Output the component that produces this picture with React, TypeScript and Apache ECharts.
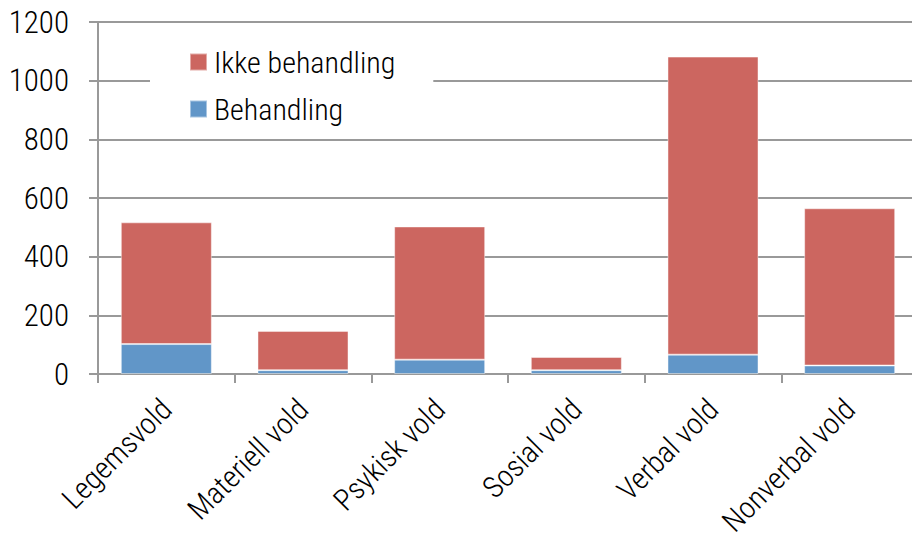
import React, { useEffect, useRef } from "react";
import * as echarts from "echarts";

const categories = ["Legemsvold", "Materiell vold", "Psykisk vold", "Sosial vold", "Verbal vold", "Nonverbal vold"];
const behandling = [102, 13, 49, 13, 66, 29];
const ikkeBehandling = [415, 134, 454, 45, 1016, 536];
const yTicks = { min: 0, max: 1200, interval: 200 };

const FONT = "'Roboto Condensed', 'Liberation Sans Narrow', 'Arial Narrow', sans-serif";
const WEIGHT = 350;

export default function App() {
  const ref = useRef<HTMLDivElement>(null);
  useEffect(() => {
    if (!ref.current) return;
    const chart = echarts.init(ref.current, undefined, { renderer: "svg" });
    chart.setOption({
      animation: false,
      backgroundColor: "#ffffff",
      grid: { left: 98, top: 22, width: 820, height: 352, containLabel: false, outerBoundsMode: "none" },
      legend: {
        orient: "vertical",
        left: 150,
        top: 30,
        data: ["Ikke behandling", "Behandling"],
        backgroundColor: "#ffffff",
        padding: [17, 38, 8, 39],
        itemWidth: 17,
        itemHeight: 17,
        itemGap: 17,
        icon: "rect",
        textStyle: { fontFamily: FONT, fontSize: 30, fontWeight: WEIGHT, color: "#000", padding: [0, 0, 0, 2] },
      },
      xAxis: {
        type: "category",
        data: categories,
        axisLine: { lineStyle: { color: "#999999", width: 2 } },
        axisTick: { show: true, length: 9, lineStyle: { color: "#999999", width: 2 } },
        axisLabel: { rotate: 45, fontFamily: FONT, fontSize: 30, fontWeight: WEIGHT, color: "#000", margin: 30, interval: 0 },
      },
      yAxis: {
        type: "value",
        min: yTicks.min,
        max: yTicks.max,
        interval: yTicks.interval,
        axisLine: { show: true, lineStyle: { color: "#999999", width: 2 } },
        axisTick: { show: true, length: 9, lineStyle: { color: "#999999", width: 2 } },
        splitLine: { show: true, lineStyle: { color: "#999999", width: 2 } },
        axisLabel: { fontFamily: FONT, fontSize: 31, fontWeight: WEIGHT, color: "#000", margin: 29, formatter: (v: number) => String(v) },
      },
      series: [
        {
          name: "Behandling",
          type: "bar",
          stack: "total",
          data: behandling,
          barCategoryGap: "33.4%",
          itemStyle: { color: "#6196C8", borderColor: "rgba(255,255,255,0.45)", borderWidth: 1 },
        },
        {
          name: "Ikke behandling",
          type: "bar",
          stack: "total",
          data: ikkeBehandling,
          barCategoryGap: "33.4%",
          itemStyle: { color: "#CC6660", borderColor: "rgba(255,255,255,0.45)", borderWidth: 1 },
        },
      ],
    });
    return () => chart.dispose();
  }, []);
  return <div ref={ref} style={{ position: "fixed", left: 0, top: 0, width: 912, height: 539 }} />;
}
